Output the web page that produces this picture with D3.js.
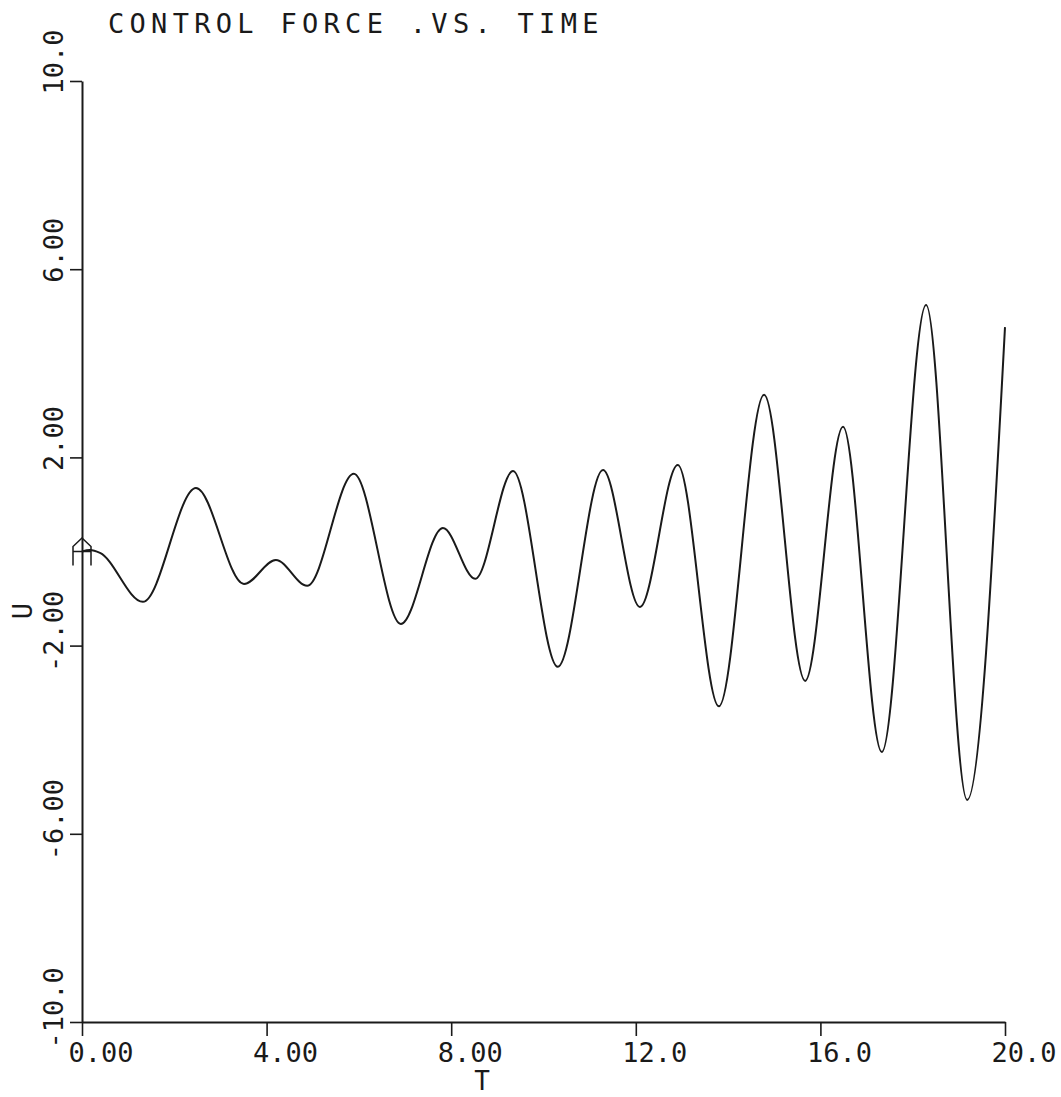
<!DOCTYPE html>
<html>
<head>
<meta charset="utf-8">
<script src="https://cdn.jsdelivr.net/npm/d3@7"></script>
<style>
  body { margin: 0; background: #fff; }
  svg text { font-family: 'DejaVu Sans Mono', monospace; fill: #1a1a1a; }
</style>
</head>
<body>
<div id="chart"></div>
<script>
// values (start, every turning point, end)
const tValues = [0, 0.17, 0.39, 1.32, 2.47, 3.51, 4.20, 4.88, 5.89, 6.91, 7.82, 8.52,
  9.34, 10.31, 11.29, 12.09, 12.91, 13.80, 14.78, 15.67, 16.49, 17.33, 18.29, 19.18, 20.0]
const uValues = [0, 0.03, -0.03, -1.07, 1.35, -0.69, -0.18, -0.73, 1.65, -1.54, 0.50, -0.58,
  1.71, -2.45, 1.73, -1.18, 1.84, -3.29, 3.33, -2.75, 2.65, -4.26, 5.24, -5.28, 4.77]

const xTicks = [0, 4, 8, 12, 16, 20]
const xTickLabels = ['0.00', '4.00', '8.00', '12.0', '16.0', '20.0']
const yTicks = [10, 6, 2, -2, -6, -10]
const yTickLabels = ['10.0', '6.00', '2.00', '-2.00', '-6.00', '-10.0']

const W = 1061, H = 1097
const margin = { top: 81, right: 56, bottom: 75, left: 82 }
const width  = W - margin.left - margin.right
const height = H - margin.top  - margin.bottom
const ink = '#1a1a1a'

const x = d3.scaleLinear().domain([0, 20]).range([0, width])
const y = d3.scaleLinear().domain([-10, 10]).range([height, 0])

const root = d3.select('#chart')
    .append('svg')
    .attr('width', W)
    .attr('height', H)

root.append('rect').attr('width', W).attr('height', H).attr('fill', '#fff')

const svg = root.append('g')
    .attr('transform', `translate(${margin.left},${margin.top})`)

// x axis, ticks hang down, labels start a little left of the tick
svg.append('g')
    .attr('transform', `translate(0,${height})`)
    .call(d3.axisBottom(x)
        .tickValues(xTicks)
        .tickSize(14)
        .tickSizeOuter(0)
        .tickFormat((d, i) => xTickLabels[i]))
    .call(g => g.select('.domain').attr('stroke', ink).attr('stroke-width', 2))
    .call(g => g.selectAll('.tick line').attr('stroke', ink).attr('stroke-width', 1.6))
    .selectAll('text')
        .attr('text-anchor', 'start')
        .attr('x', -14)
        .attr('y', 40)
        .attr('dy', null)
        .style('font-size', '27px')

// y axis, ticks point left, labels rotated reading upward
svg.append('g')
    .call(d3.axisLeft(y)
        .tickValues(yTicks)
        .tickSize(12)
        .tickSizeOuter(0)
        .tickFormat((d, i) => yTickLabels[i]))
    .call(g => g.select('.domain').attr('stroke', ink).attr('stroke-width', 2))
    .call(g => g.selectAll('.tick line').attr('stroke', ink).attr('stroke-width', 1.6))
    .selectAll('text')
        .attr('text-anchor', 'start')
        .attr('transform', 'rotate(-90)')
        .attr('x', d => d < 0 ? -26 : -13)
        .attr('y', -19)
        .attr('dy', null)
        .style('font-size', '27px')

// the curve
const points = tValues.map((t, i) => [t, uValues[i]])
svg.append('path')
    .datum(points)
    .attr('fill', 'none')
    .attr('stroke', ink)
    .attr('stroke-width', 2)
    .attr('stroke-linejoin', 'round')
    .attr('d', d3.line()
        .x(d => x(d[0]))
        .y(d => y(d[1]))
        .curve(d3.curveMonotoneX))

// plotter marker at the first point
svg.append('path')
    .attr('transform', `translate(${x(points[0][0])},${y(points[0][1])})`)
    .attr('d', 'M-9,14V-5L0,-13.5L9,-5V14M-9,0H9')
    .attr('fill', 'none')
    .attr('stroke', ink)
    .attr('stroke-width', 1.5)

// titles
root.append('text')
    .attr('x', 108)
    .attr('y', 33)
    .style('font-size', '27px')
    .style('letter-spacing', '5.3px')
    .text('CONTROL FORCE .VS. TIME')

root.append('text')
    .attr('transform', 'translate(32,611) rotate(-90)')
    .attr('text-anchor', 'middle')
    .style('font-size', '27px')
    .text('U')

root.append('text')
    .attr('x', 482)
    .attr('y', 1090)
    .attr('text-anchor', 'middle')
    .style('font-size', '26px')
    .text('T')
</script>
</body>
</html>
